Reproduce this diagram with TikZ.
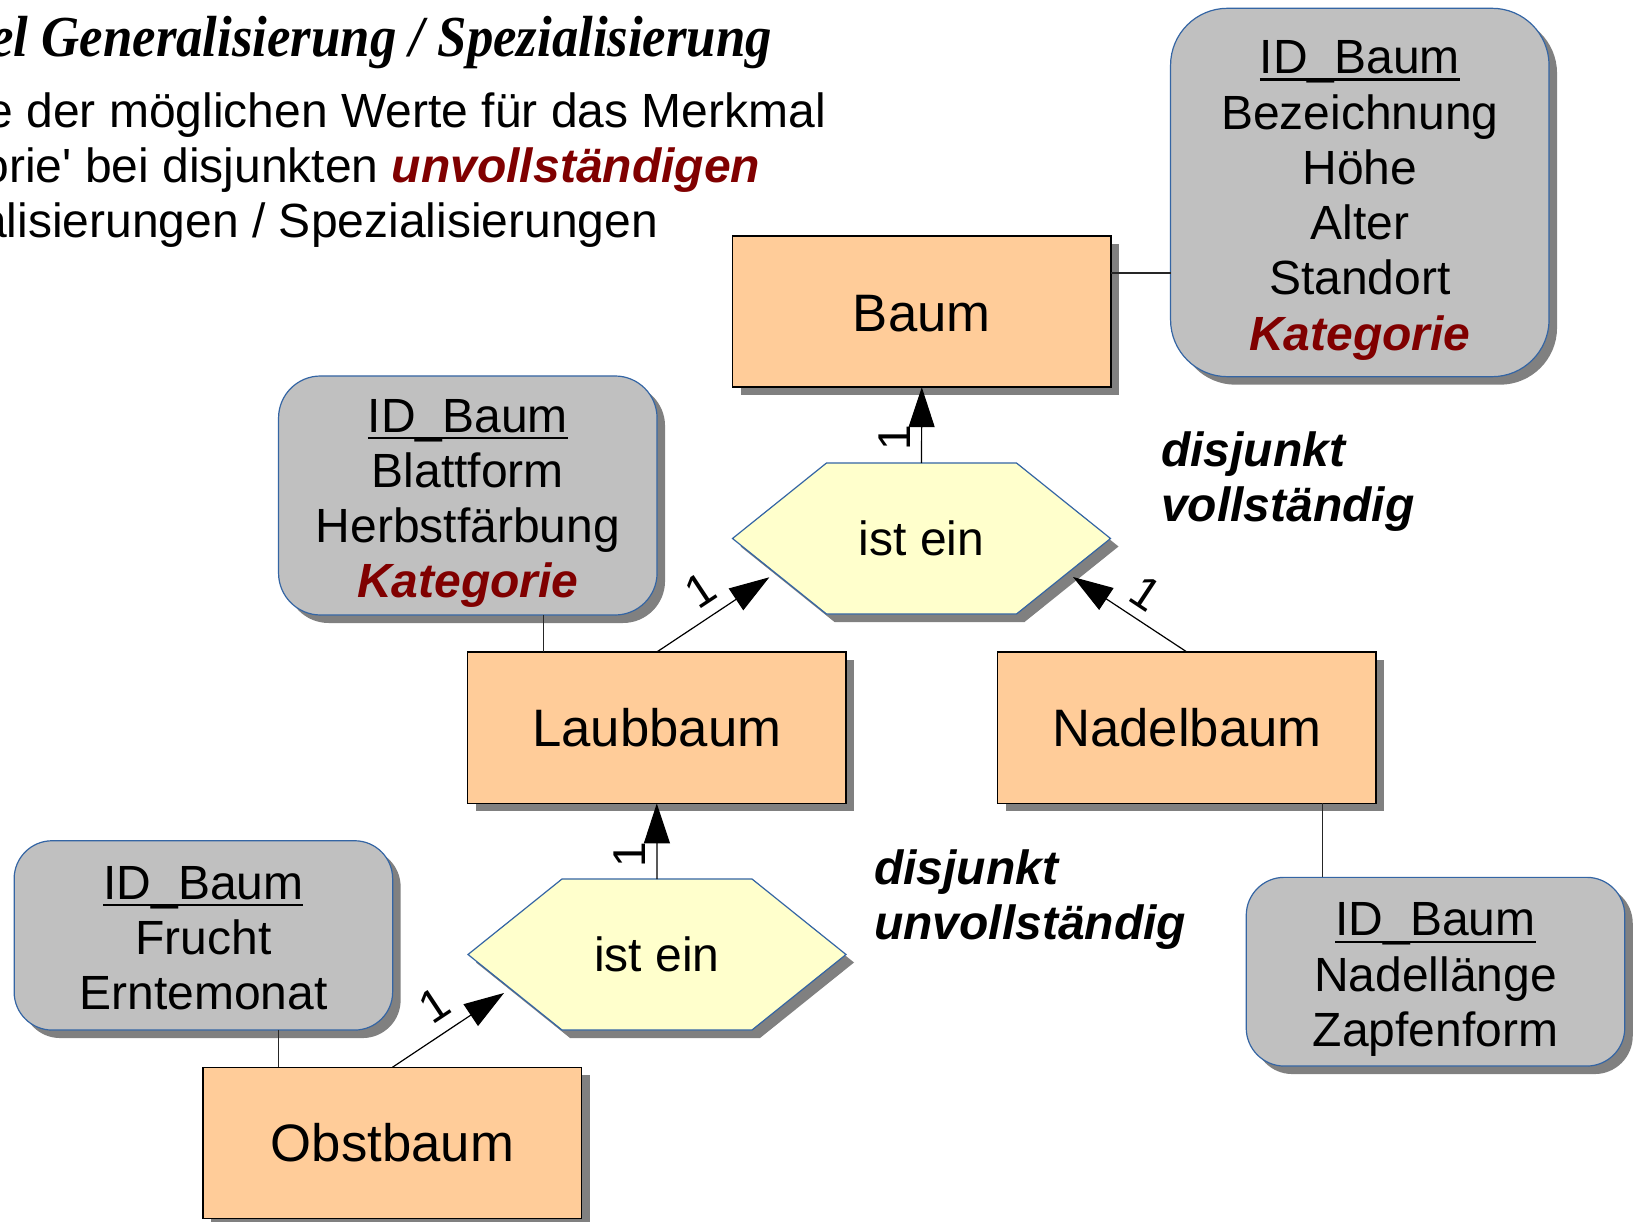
\documentclass[tikz,border=0pt]{standalone}
\usepackage{graphicx}
\usepackage{fontspec}
\setmainfont{Liberation Sans}
\newfontfamily\rawsans{Liberation Sans}
\newfontfamily\titlefont{Liberation Serif}
\usetikzlibrary{arrows.meta,calc,shadows}
\definecolor{peach}{HTML}{FFCC99}
\definecolor{hexfill}{HTML}{FFFFCC}
\definecolor{attrfill}{HTML}{C0C0C0}
\definecolor{shadowc}{HTML}{808080}
\definecolor{borderblue}{HTML}{3465A4}
\definecolor{darkred}{HTML}{800000}
\newcommand\katg[1]{{\bfseries\itshape\color{darkred}#1}}
\newcommand\ulkey[1]{\setbox0\hbox{#1}\rlap{\rule[-7pt]{\wd0}{2.4pt}}\box0}
\newcommand\drawhex[4]{%
  \begin{scope}[shift={(#1,#2)}]
    \fill[shadowc] (-181,8) -- (-87,-67.5) -- (103,-67.5) -- (197,8) -- (103,83.5) -- (-87,83.5) -- cycle;
    \filldraw[fill=hexfill, draw=borderblue, line width=1.2pt] (-189,0) -- (-95,-75.5) -- (95,-75.5) -- (189,0) -- (95,75.5) -- (-95,75.5) -- cycle;
    \node[hexshape] (#3) at (0,0) {#4};
  \end{scope}}
\begin{document}
\begin{tikzpicture}[x=1pt,y=-1pt,
  every node/.style={inner sep=0pt, outer sep=0pt},
  entity/.style={draw=black, line width=1.5pt, fill=peach, minimum width=378.5pt, minimum height=151.4pt,
    font=\fontsize{52.7}{60}\selectfont,
    copy shadow={shadow xshift=8pt, shadow yshift=-8pt, fill=shadowc, draw=none}},
  attr/.style={draw=borderblue, line width=1.2pt, fill=attrfill, rounded corners=#1, align=center,
    minimum width=378.5pt, font=\fontsize{48}{55.3}\selectfont,
    copy shadow={shadow xshift=8pt, shadow yshift=-8pt, fill=shadowc, draw=none}},
  hexshape/.style={minimum width=378pt, minimum height=151pt, font=\fontsize{48}{55}\selectfont},
  hdr/.style={font=\fontsize{48}{55.3}\selectfont},
  dj/.style={font=\fontsize{48}{55.3}\selectfont\bfseries\itshape, align=left},
  card/.style={font=\fontsize{46}{46}\selectfont},
  conn/.style={draw=black!85, line width=1.2pt},
  arr/.style={draw=black, line width=1.2pt, -{Triangle[length=40pt,width=26pt]}}
]
\useasboundingbox (0,0) rectangle (1636,1222);
\clip (0,0) rectangle (1636,1222);
\fill[white] (0,0) rectangle (1636,1222);

% title and header text
\node[anchor=base east] (title) at (772,57) {\titlefont\bfseries\itshape\fontsize{58}{60}\selectfont\scalebox{0.91}[1]{el Generalisierung / Spezialisierung}};
\node[anchor=base east, hdr] (h1) at (826,127.3) {e der möglichen Werte für das Merkmal};
\node[anchor=base east, hdr] (h2) at (760,182.6) {orie{\rawsans'} bei disjunkten \katg{unvollständigen}};
\node[anchor=base east, hdr] (h3) at (658,238) {alisierungen / Spezialisierungen};

% attribute boxes
\node[attr=57pt, minimum height=368.4pt] (abaum) at (1359.8,192.5)
  {\rule{0pt}{49pt}\ulkey{ID\_Baum}\\Bezeichnung\\Höhe\\Alter\\Standort\\\katg{Kategorie}};
\node[attr=42pt, minimum height=239pt] (alaub) at (467.8,495.5)
  {\rule{0pt}{49pt}\ulkey{ID\_Baum}\\Blattform\\Herbstfärbung\\\katg{Kategorie}};
\node[attr=38pt, minimum height=189.3pt] (aobst) at (203.4,935.4)
  {\rule{0pt}{38.5pt}\ulkey{ID\_Baum}\\Frucht\\Erntemonat};
\node[attr=38pt, minimum height=188.7pt] (anadel) at (1435.5,971.7)
  {\rule{0pt}{49pt}\ulkey{ID\_Baum}\\Nadellänge\\Zapfenform};

% entities
\node[entity] (baum) at (921.8,311.5) {\rule{0pt}{41pt}Baum};
\node[entity] (laub) at (656.8,727.7) {Laubbaum};
\node[entity] (nadel) at (1186.9,727.7) {Nadelbaum};
\node[entity] (obst) at (392.4,1143) {Obstbaum};

% is-a hexagons
\drawhex{921.5}{538.5}{hex1}{ist ein}
\drawhex{657}{954.5}{hex2}{ist ein}

% attribute connectors
\coordinate (cb) at ([yshift=38.5pt]baum.east);
\draw[conn] (cb) -- (cb -| abaum.west);
\coordinate (cl) at ([xshift=75.8pt]alaub.south);
\draw[conn] (cl) -- (cl |- laub.north);
\coordinate (cn) at ([xshift=135.4pt]nadel.south);
\draw[conn] (cn) -- (cn |- anadel.north);
\coordinate (co) at ([xshift=75.3pt]aobst.south);
\draw[conn] (co) -- (co |- obst.north);

% is-a arrows
\draw[arr] (hex1.north) -- (baum.south);
\draw[arr] (laub.north) -- ($(hex1.center)+(-152.2,38.8)$);
\draw[arr] (nadel.north) -- ($(hex1.center)+(151.5,38.5)$);
\draw[arr] (hex2.north) -- (laub.south);
\draw[arr] (obst.north) -- ($(hex2.center)+(-153,38.5)$);

% cardinalities
\node[card, rotate=90] (c1) at (895,438) {1};
\node[card, rotate=90] (c2) at (630,855) {1};
\node[card, rotate=33.5] (c3) at (700,590) {1};
\node[card, rotate=-33.5] (c4) at (1145.7,593.3) {1};
\node[card, rotate=33.5] (c5) at (434,1005.7) {1};

% constraint labels (base anchor = baseline of the last line)
\node[dj, anchor=base west] (dj1) at (1161,521.3) {disjunkt\\vollständig};
\node[dj, anchor=base west] (dj2) at (874,939.3) {disjunkt\\unvollständig};
\end{tikzpicture}
\end{document}
